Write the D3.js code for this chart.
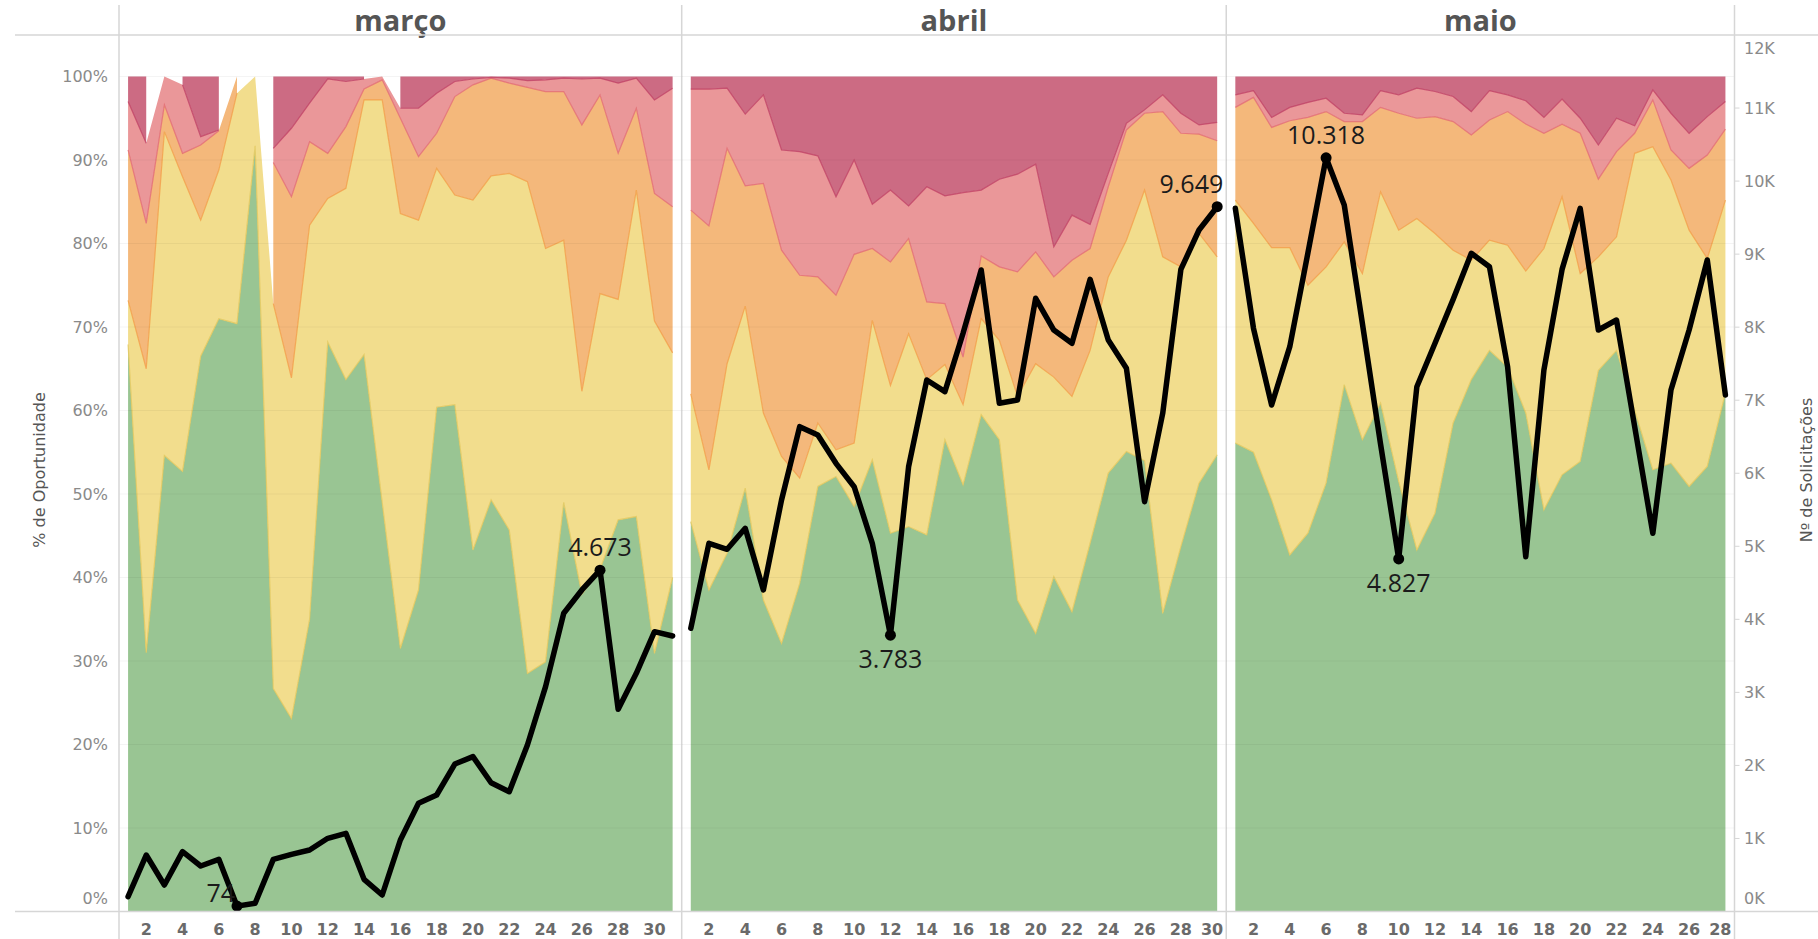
<!DOCTYPE html>
<html lang="pt-BR">
<head>
  <meta charset="UTF-8">
  <title>% de Oportunidade x Nº de Solicitações</title>
  <script src="https://cdn.jsdelivr.net/npm/d3@7"></script>
  <style>
    html, body { margin: 0; padding: 0; background: #fff; }
    svg { display: block; }
  </style>
</head>
<body>
  <svg id="grafico" width="1818" height="939"></svg>
  <script>
    const meses = ["março", "abril", "maio"];
    const faixas = ["verde", "amarelo", "laranja", "rosa", "vermelho"];

    // março (1..31) - null = faixa sem dados no dia
    const marcoVerde = [67.9, 31.0, 54.6, 52.7, 66.5, 71.0, 70.4, 91.7, 26.7, 23.1, 35.0, 68.2, 63.7, 66.7, 49.0, 31.5, 38.5, 60.4, 60.7, 43.3, 49.3, 45.7, 28.5, 29.9, 49.0, 38.0, 41.0, 46.9, 47.3, 30.9, 40.0];
    const marcoAmarelo = [5.3, 34.0, 38.8, 35.3, 16.3, 17.8, 27.6, 8.3, 46.1, 40.8, 47.2, 17.2, 22.9, 30.5, 48.2, 52.1, 44.3, 28.6, 25.1, 41.9, 38.8, 42.7, 58.9, 49.5, 31.4, 24.3, 33.0, 26.4, 39.1, 39.8, 26.9];
    const marcoLaranja = [18.0, 17.4, 3.2, 2.8, 9.0, 4.7, 2.0, null, 16.9, 21.7, 10.0, 5.4, 7.4, 1.3, 2.4, 11.4, 7.6, 4.2, 11.8, 13.8, 11.7, 10.8, 11.3, 18.8, 17.8, 31.9, 23.8, 17.5, 9.8, 15.3, 17.5];
    const marcoRosa = [5.8, 9.6, 3.4, 8.2, 1.0, 0.1, null, null, 1.7, 8.2, 4.6, 8.9, 5.4, 1.2, 0.4, 1.2, 5.8, 4.8, 1.8, 0.7, 0.1, 0.6, 0.8, 1.4, 1.6, 5.5, 2.0, 8.4, 3.6, 11.2, 14.2];
    const marcoVermelho = [3.0, 8.0, null, 1.0, 7.2, 6.4, null, null, 8.6, 6.2, 3.2, 0.3, 0.6, 0.3, null, 3.8, 3.8, 2.0, 0.6, 0.3, 0.1, 0.2, 0.5, 0.4, 0.2, 0.3, 0.2, 0.8, 0.2, 2.8, 1.4];
    const marcoSolic = [203, 773, 363, 819, 623, 714, 74, 112, 714, 783, 842, 1002, 1070, 440, 226, 979, 1481, 1595, 2019, 2120, 1763, 1640, 2280, 3078, 4083, 4402, 4673, 2768, 3261, 3831, 3772];

    // abril (1..30)
    const abrilVerde = [46.7, 38.5, 42.9, 50.7, 37.3, 32.1, 39.3, 50.9, 52.1, 48.5, 54.1, 45.3, 46.1, 45.1, 56.5, 51.1, 59.5, 56.5, 37.3, 33.3, 40.1, 35.9, 44.1, 52.5, 55.1, 54.0, 35.7, 43.7, 51.3, 54.7];
    const abrilAmarelo = [15.3, 14.4, 22.7, 21.8, 22.4, 22.4, 12.6, 7.6, 3.2, 7.6, 16.7, 17.7, 23.1, 18.6, 9.0, 9.6, 11.5, 11.9, 24.4, 32.3, 23.9, 25.8, 23.1, 23.5, 25.3, 32.4, 42.7, 33.5, 29.9, 23.7];
    const abrilLaranja = [22.0, 29.2, 25.8, 14.4, 27.5, 24.7, 24.3, 17.5, 18.5, 22.6, 8.6, 14.8, 11.4, 9.3, 7.3, 5.7, 7.5, 8.8, 14.9, 13.4, 12.0, 16.3, 12.2, 10.8, 13.2, 9.2, 17.4, 16.0, 11.9, 13.9];
    const abrilRosa = [14.5, 16.4, 7.2, 8.6, 10.6, 12.0, 14.8, 14.5, 11.8, 11.3, 5.3, 8.6, 3.9, 13.8, 12.9, 19.7, 7.9, 10.5, 11.7, 10.5, 3.6, 5.4, 2.9, 1.6, 0.8, 0.4, 2.0, 2.4, 1.1, 2.2];
    const abrilVermelho = [1.5, 1.5, 1.4, 4.5, 2.2, 8.8, 9.0, 9.5, 14.4, 10.0, 15.3, 13.6, 15.5, 13.2, 14.3, 13.9, 13.6, 12.3, 11.7, 10.5, 20.4, 16.6, 17.7, 11.6, 5.6, 4.0, 2.2, 4.4, 5.8, 5.5];
    const abrilSolic = [3877, 5041, 4959, 5246, 4402, 5634, 6638, 6524, 6136, 5816, 5041, 3783, 6090, 7277, 7117, 7916, 8783, 6958, 7003, 8395, 7961, 7779, 8655, 7825, 7437, 5611, 6821, 8790, 9330, 9649];

    // maio (1..28)
    const maioVerde = [56.1, 55.0, 49.3, 42.7, 45.3, 51.3, 63.1, 56.5, 60.9, 51.5, 43.3, 47.7, 58.5, 63.7, 67.2, 65.2, 59.7, 48.1, 52.3, 53.9, 64.8, 67.2, 60.0, 52.9, 53.7, 50.9, 53.3, 62.1];
    const maioAmarelo = [29.1, 27.4, 30.2, 36.8, 29.7, 25.9, 17.1, 19.9, 25.3, 30.1, 39.7, 33.5, 20.7, 14.3, 13.2, 14.6, 17.0, 31.3, 33.3, 22.5, 13.6, 13.6, 30.8, 38.7, 33.9, 30.7, 24.9, 23.1];
    const maioLaranja = [11.1, 15.1, 14.4, 15.2, 20.1, 18.6, 14.4, 18.2, 10.1, 14.0, 12.0, 14.0, 15.4, 15.0, 14.4, 16.0, 17.6, 13.8, 8.7, 16.8, 9.3, 10.2, 2.4, 5.6, 3.6, 7.4, 12.4, 8.5];
    const maioRosa = [1.5, 0.8, 1.2, 1.6, 1.8, 1.6, 1.0, 0.8, 2.0, 2.2, 3.6, 3.0, 3.0, 2.8, 3.5, 2.0, 2.8, 1.9, 3.0, 1.8, 4.1, 4.0, 0.9, 1.2, 4.4, 4.2, 4.6, 3.3];
    const maioVermelho = [2.2, 1.7, 4.9, 3.7, 3.1, 2.6, 4.4, 4.6, 1.7, 2.2, 1.4, 1.8, 2.4, 4.2, 1.7, 2.2, 2.9, 4.9, 2.7, 5.0, 8.2, 5.0, 5.9, 1.6, 4.4, 6.8, 4.8, 3.0];
    const maioSolic = [9627, 7985, 6934, 7733, 9018, 10318, 9673, 8050, 6400, 4827, 7185, 7779, 8380, 9011, 8828, 7459, 4858, 7414, 8791, 9627, 7961, 8098, 6638, 5178, 7140, 7961, 8920, 7071];

    // eixos
    const ticksPct = d3.range(0, 101, 10);
    const ticksQtd = d3.range(0, 12001, 1000);

    // ---- montagem ----
    const dadosMes = [
      {verde: marcoVerde, amarelo: marcoAmarelo, laranja: marcoLaranja, rosa: marcoRosa, vermelho: marcoVermelho, solic: marcoSolic},
      {verde: abrilVerde, amarelo: abrilAmarelo, laranja: abrilLaranja, rosa: abrilRosa, vermelho: abrilVermelho, solic: abrilSolic},
      {verde: maioVerde, amarelo: maioAmarelo, laranja: maioLaranja, rosa: maioRosa, vermelho: maioVermelho, solic: maioSolic}
    ];

    const preenchimento = {verde: "#99c593", amarelo: "#f2dd8d", laranja: "#f4b87b", rosa: "#ea9799", vermelho: "#cc6b83"};
    const borda = {verde: "#7fb374", amarelo: "#e2c75a", laranja: "#f29d45", rosa: "#e2696f", vermelho: "#c03f62"};

    const esq = 119, dir = 1734.5, topo = 35, base = 911.5;
    const totalDias = d3.sum(dadosMes, d => d.solic.length);
    const passo = (dir - esq) / totalDias;

    const yPct = d3.scaleLinear().domain([0, 100]).range([base, 76.5]);
    const yQtd = d3.scaleLinear().domain([0, 12000]).range([base, topo]);

    const br = d3.formatLocale({decimal: ",", thousands: ".", grouping: [3], currency: ["R$", ""]});
    const fmt = br.format(",d");

    const svg = d3.select("#grafico");
    const cinzaLinha = "#d6d6d6";

    let inicio = 0;
    meses.forEach(function(mes, m) {
      const dd = dadosMes[m];
      const n = dd.solic.length;
      const x0 = esq + passo * inicio, x1 = x0 + passo * n;
      inicio += n;

      const x = d3.scaleLinear().domain([0.5, n + 0.5]).range([x0, x1]);

      const linhas = d3.range(n).map(function(i) {
        const r = {dia: i + 1, qtd: dd.solic[i]};
        faixas.forEach(f => r[f] = dd[f][i]);
        return r;
      });

      const g = svg.append("g").attr("class", "painel");

      // areas empilhadas
      const pilha = d3.stack().keys(faixas).value((d, k) => d[k] == null ? 0 : d[k])(linhas);
      pilha.forEach(function(camada) {
        const k = camada.key;
        const area = d3.area()
          .defined(d => d.data[k] != null)
          .x(d => x(d.data.dia))
          .y0(d => yPct(d[0]))
          .y1(d => yPct(d[1]));
        g.append("path").datum(camada)
          .attr("d", area)
          .attr("fill", preenchimento[k]);
        if (k !== "verde") {
          const borda0 = d3.line()
            .defined(d => d.data[k] != null)
            .x(d => x(d.data.dia))
            .y(d => yPct(d[0]));
          g.append("path").datum(camada)
            .attr("d", borda0)
            .attr("fill", "none")
            .attr("stroke", borda[k])
            .attr("stroke-width", 1.2)
            .attr("stroke-opacity", 0.8);
        }
      });

      // grade horizontal
      g.selectAll(".grade").data(ticksPct).enter().append("line")
        .attr("x1", x0).attr("x2", x1)
        .attr("y1", d => yPct(d)).attr("y2", d => yPct(d))
        .attr("stroke", "#000").attr("stroke-opacity", 0.045);

      // linha de solicitacoes
      const linha = d3.line().x(d => x(d.dia)).y(d => yQtd(d.qtd));
      g.append("path").datum(linhas)
        .attr("d", linha)
        .attr("fill", "none")
        .attr("stroke", "#000")
        .attr("stroke-width", 5.5)
        .attr("stroke-linejoin", "round")
        .attr("stroke-linecap", "round");

      // rotulos de maximo e minimo
      const iMax = d3.maxIndex(linhas, d => d.qtd), iMin = d3.minIndex(linhas, d => d.qtd);
      [iMax, iMin].forEach(function(i) {
        const d = linhas[i], px = x(d.dia), py = yQtd(d.qtd);
        g.append("circle").attr("cx", px).attr("cy", py).attr("r", 5.5).attr("fill", "#000");
        const t = g.append("text")
          .text(fmt(d.qtd))
          .attr("font-family", "Open Sans, sans-serif")
          .attr("font-size", 25)
          .attr("fill", "#1b1b1b");
        if (i === iMax) {
          t.attr("x", px).attr("y", py - 14).attr("text-anchor", "middle");
        } else if (py + 33 < base) {
          t.attr("x", px).attr("y", py + 33).attr("text-anchor", "middle");
        } else {
          t.attr("x", px - 2).attr("y", py - 4).attr("text-anchor", "end");
        }
        const b = t.node().getBBox();
        if (b.x + b.width > x1 - 3) t.attr("x", +t.attr("x") - (b.x + b.width - (x1 - 3)));
        if (b.x < x0 + 3) t.attr("x", +t.attr("x") + (x0 + 3 - b.x));
      });

      // dias no eixo x
      const dias = d3.range(2, n + 1, 2);
      dias.forEach(function(dia) {
        const t = svg.append("text")
          .attr("x", x(dia)).attr("y", 935)
          .attr("text-anchor", "middle")
          .attr("font-family", "DejaVu Sans, sans-serif")
          .attr("font-weight", "bold")
          .attr("font-size", 16)
          .attr("fill", "#6a6a6a")
          .text(dia);
        const b = t.node().getBBox();
        if (b.x + b.width > x1 - 3) t.attr("x", x(dia) - (b.x + b.width - (x1 - 3)));
      });

      // cabecalho do mes
      svg.append("text")
        .attr("x", (x0 + x1) / 2).attr("y", 31)
        .attr("text-anchor", "middle")
        .attr("font-family", "Open Sans, sans-serif")
        .attr("font-weight", "bold")
        .attr("font-size", 29)
        .attr("fill", "#555")
        .text(mes);

      // divisoria a direita
      svg.append("line")
        .attr("x1", x1).attr("x2", x1).attr("y1", 5).attr("y2", 939)
        .attr("stroke", cinzaLinha).attr("stroke-width", 1.5);
    });

    // linhas de moldura
    svg.append("line").attr("x1", esq).attr("x2", esq).attr("y1", 5).attr("y2", 939)
      .attr("stroke", cinzaLinha).attr("stroke-width", 1.5);
    svg.append("line").attr("x1", 15).attr("x2", 1818).attr("y1", topo).attr("y2", topo)
      .attr("stroke", cinzaLinha).attr("stroke-width", 1.5);
    svg.append("line").attr("x1", 15).attr("x2", 1818).attr("y1", base).attr("y2", base)
      .attr("stroke", cinzaLinha).attr("stroke-width", 1.5);

    // eixo esquerdo (%)
    svg.append("g").selectAll("text").data(ticksPct).enter().append("text")
      .attr("x", 108)
      .attr("y", d => d === 0 ? 898 : yPct(d))
      .attr("dy", "0.36em")
      .attr("text-anchor", "end")
      .attr("font-family", "DejaVu Sans, sans-serif")
      .attr("font-size", 16)
      .attr("fill", "#8a8a8a")
      .text(d => d + "%");

    // eixo direito (qtd)
    svg.append("g").selectAll("line").data(ticksQtd.slice(1, -1)).enter().append("line")
      .attr("x1", dir).attr("x2", dir + 5)
      .attr("y1", d => yQtd(d)).attr("y2", d => yQtd(d))
      .attr("stroke", cinzaLinha);
    svg.append("g").selectAll("text").data(ticksQtd).enter().append("text")
      .attr("x", 1744)
      .attr("y", d => d === 0 ? 898 : (d === 12000 ? 48 : yQtd(d)))
      .attr("dy", "0.36em")
      .attr("font-family", "DejaVu Sans, sans-serif")
      .attr("font-size", 16)
      .attr("fill", "#8a8a8a")
      .text(d => (d / 1000) + "K");

    // titulos dos eixos
    svg.append("text")
      .attr("transform", "translate(45,470) rotate(-90)")
      .attr("text-anchor", "middle")
      .attr("font-family", "DejaVu Sans, sans-serif")
      .attr("font-size", 16)
      .attr("fill", "#555")
      .text("% de Oportunidade");
    svg.append("text")
      .attr("transform", "translate(1812,470) rotate(-90)")
      .attr("text-anchor", "middle")
      .attr("font-family", "DejaVu Sans, sans-serif")
      .attr("font-size", 16)
      .attr("fill", "#555")
      .text("Nº de Solicitações");
  </script>
</body>
</html>
